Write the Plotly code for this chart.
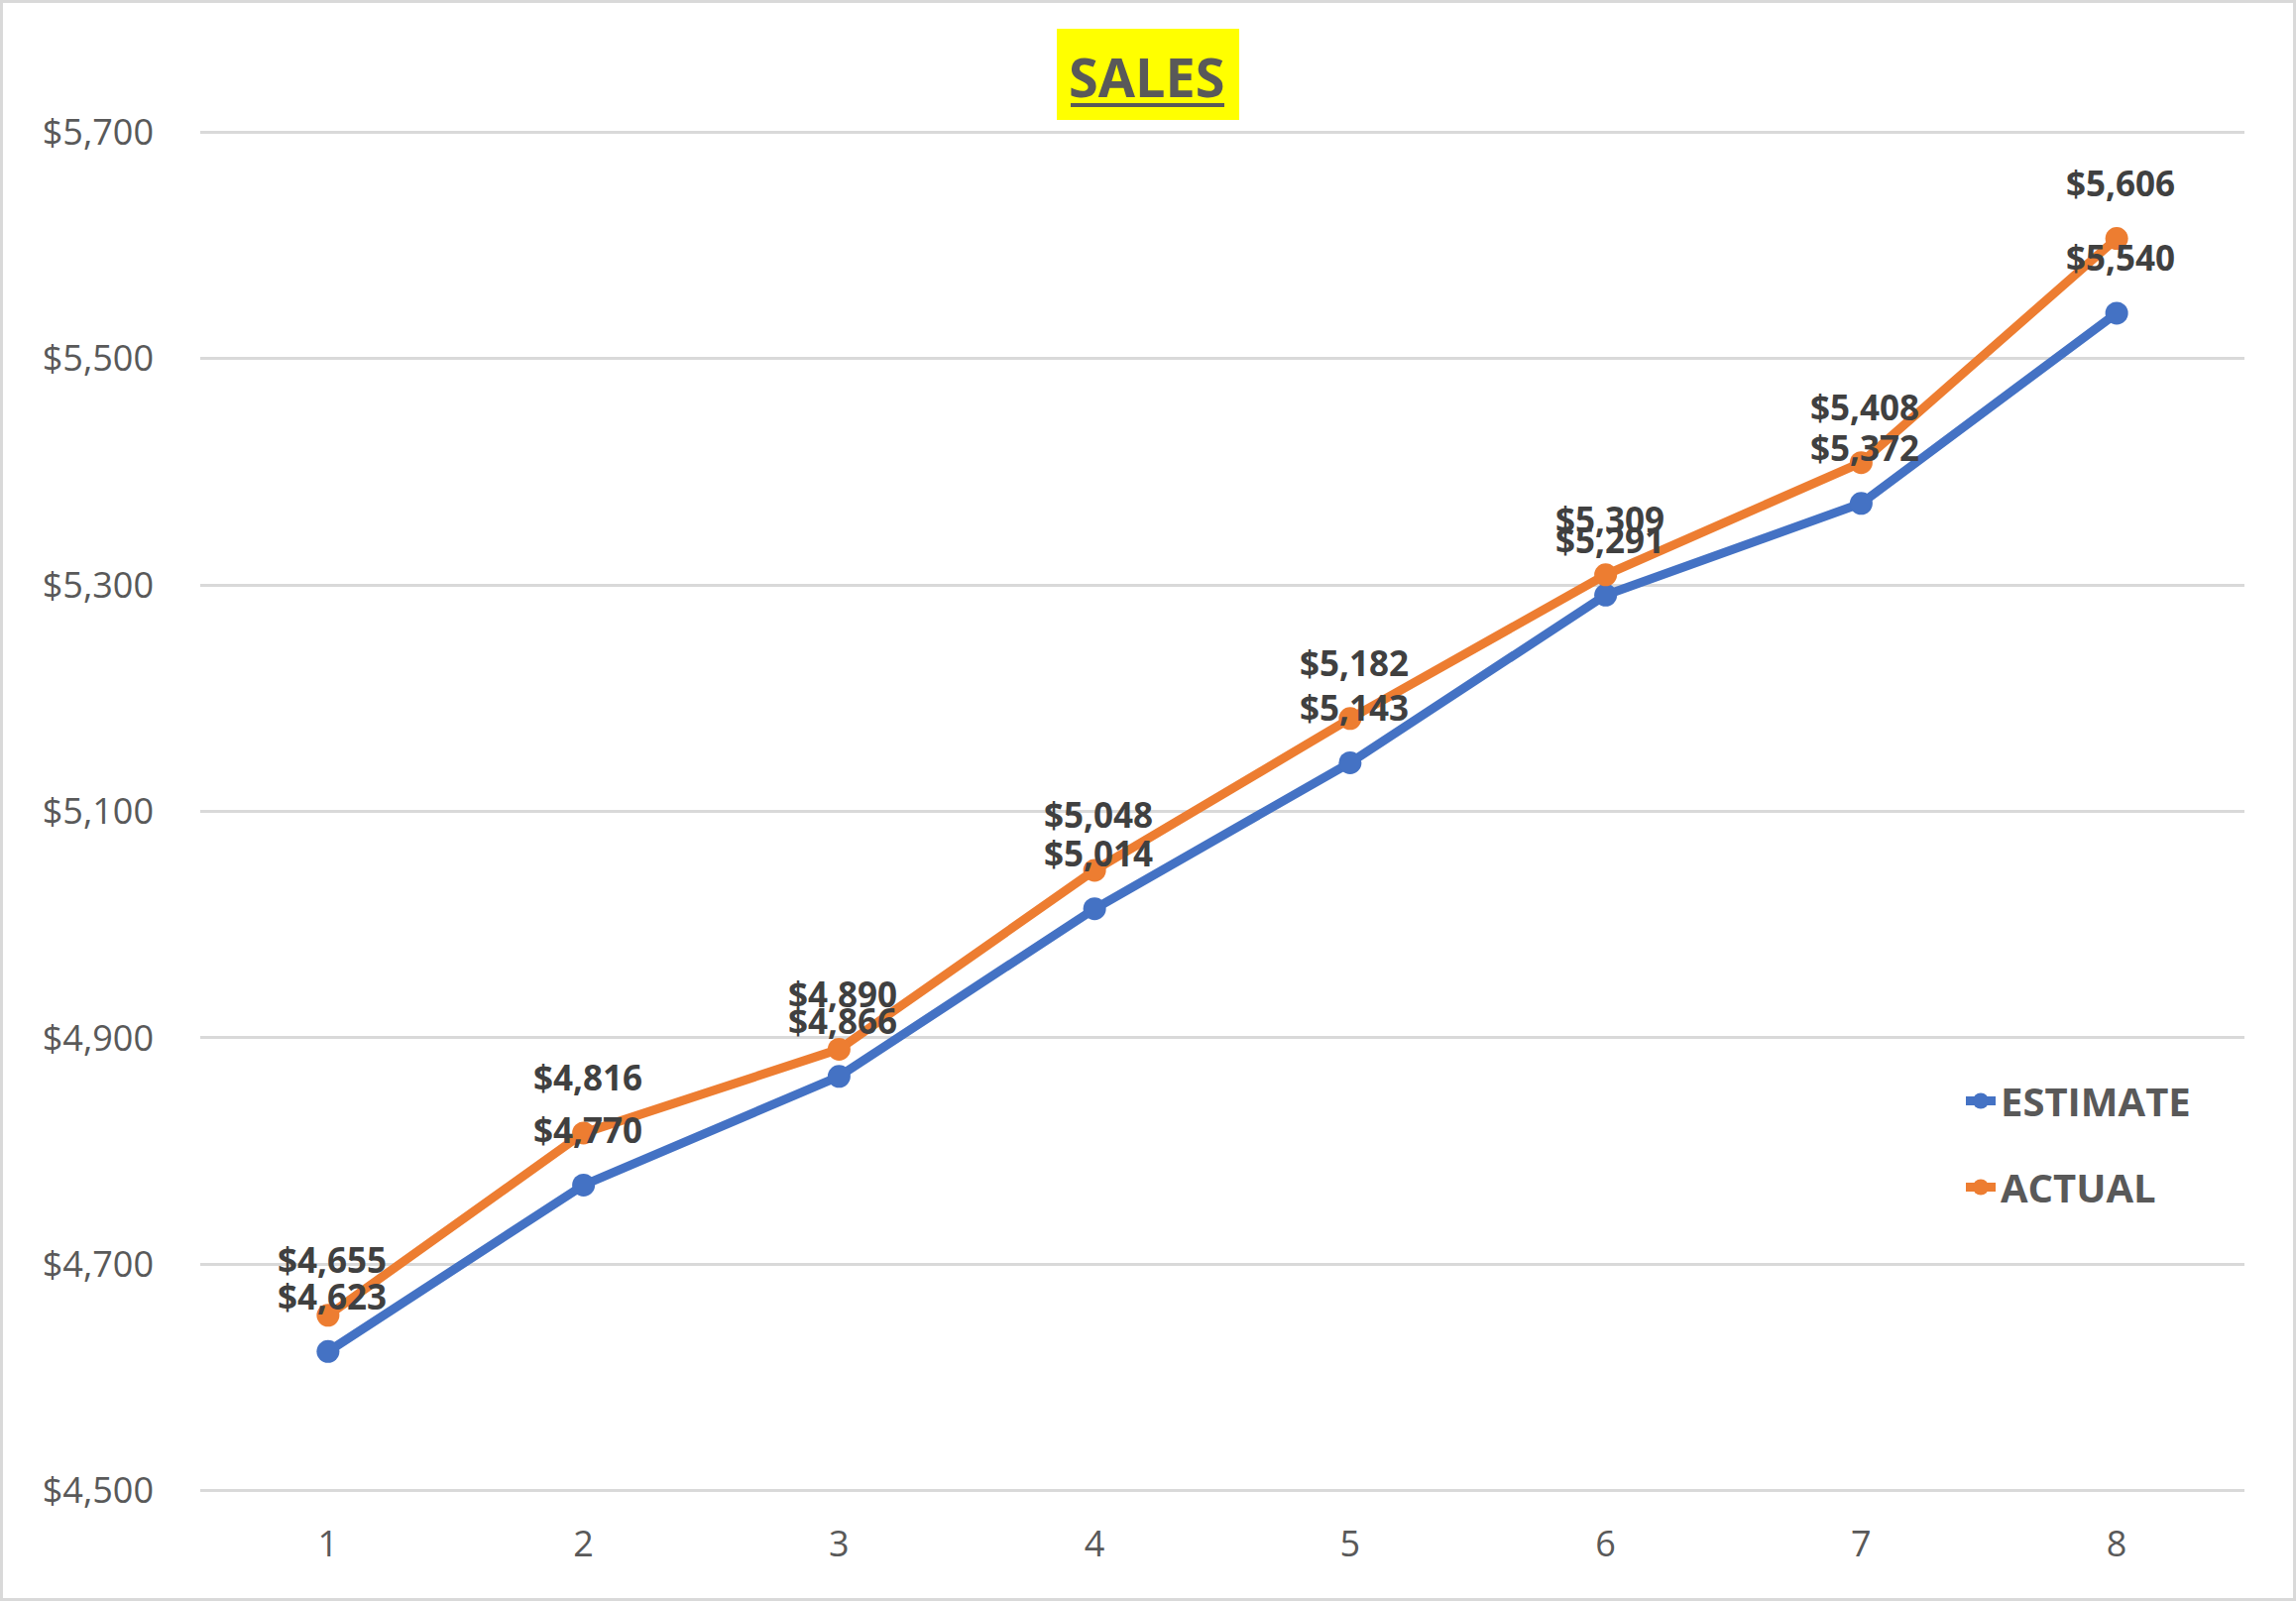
import plotly.graph_objects as go

periods = [1, 2, 3, 4, 5, 6, 7, 8]
estimate = [4623, 4770, 4866, 5014, 5143, 5291, 5372, 5540]
actual = [4655, 4816, 4890, 5048, 5182, 5309, 5408, 5606]
y_ticks = [4500, 4700, 4900, 5100, 5300, 5500, 5700]

BLUE = "#4472C4"
ORANGE = "#ED7D31"
GRAY = "#595959"
DARK = "#404040"
FONT = "Open Sans"

W, H = 2316, 1615
L, R, T, B = 202, 52, 132, 110
PW, PH = W - L - R, H - T - B


def px(x):
    return (x - L) / PW


def py(y):
    return (H - B - y) / PH


fig = go.Figure()
fig.add_trace(go.Scatter(
    x=periods, y=estimate, name="ESTIMATE", mode="lines+markers",
    line=dict(color=BLUE, width=9), marker=dict(color=BLUE, size=23),
    legendgroup="a", cliponaxis=False,
))
fig.add_trace(go.Scatter(
    x=periods, y=actual, name="ACTUAL", mode="lines+markers",
    line=dict(color=ORANGE, width=9), marker=dict(color=ORANGE, size=23),
    legendgroup="b", cliponaxis=False,
))

annotations = []
for series in (actual, estimate):
    for xv, yv in zip(periods, series):
        annotations.append(dict(
            x=xv, y=yv, xref="x", yref="y", text=f"<b>${yv:,}</b>",
            showarrow=False, xanchor="center", yanchor="middle", yshift=56, xshift=4,
            font=dict(family=FONT, size=35, color=DARK),
        ))

annotations.append(dict(
    x=px(1157), y=py(77), xref="paper", yref="paper", text="<b>SALES</b>",
    showarrow=False, xanchor="center", yanchor="middle",
    font=dict(family=FONT, size=54, color=GRAY),
))

shapes = [
    dict(type="rect", xref="paper", yref="paper", x0=px(1066), x1=px(1250), y0=py(121), y1=py(29),
         fillcolor="#FFFF00", line=dict(width=0), layer="below"),
    dict(type="line", xref="paper", yref="paper", x0=px(1080), x1=px(1235), y0=py(106), y1=py(106),
         line=dict(color=GRAY, width=4)),
    dict(type="rect", xref="paper", yref="paper", x0=px(1.5), x1=px(W - 1.5), y0=py(H - 1.5), y1=py(1.5),
         line=dict(color="#D9D9D9", width=3), fillcolor="rgba(0,0,0,0)", layer="below"),
]

fig.update_layout(
    width=W, height=H,
    margin=dict(l=L, r=R, t=T, b=B),
    paper_bgcolor="white", plot_bgcolor="white",
    font=dict(family=FONT, color=GRAY),
    showlegend=True,
    legend=dict(
        x=px(1978), y=py(1154), xanchor="left", yanchor="middle",
        font=dict(family=FONT, size=40, color=GRAY, weight="bold"),
        tracegroupgap=32, bgcolor="rgba(0,0,0,0)", traceorder="grouped",
        itemsizing="trace",
    ),
    annotations=annotations,
    shapes=shapes,
    xaxis=dict(
        range=[0.5, 8.5], tickmode="array", tickvals=periods, ticktext=[str(p) for p in periods],
        showgrid=False, zeroline=False, showline=False, ticks="",
        tickfont=dict(family=FONT, size=36, color=GRAY), ticklabelstandoff=28,
    ),
    yaxis=dict(
        range=[4499, 5701], tickmode="array", tickvals=y_ticks,
        ticktext=[f"${v:,}" for v in y_ticks],
        showgrid=True, gridcolor="#D9D9D9", gridwidth=2.5, zeroline=False, showline=False, ticks="",
        tickfont=dict(family=FONT, size=36, color=GRAY), ticklabelstandoff=46,
    ),
)

fig.write_html("out.html")
